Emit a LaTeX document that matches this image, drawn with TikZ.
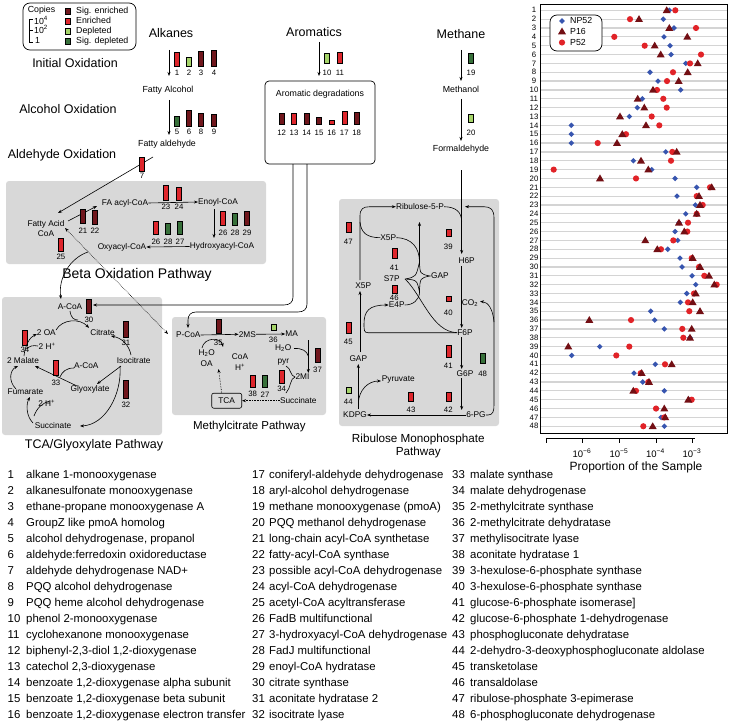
\documentclass[tikz,border=0pt]{standalone}
\usepackage{fontspec}
\setmainfont{Liberation Sans}
\usetikzlibrary{arrows.meta}
\definecolor{sigenr}{RGB}{112,22,28}
\definecolor{enr}{RGB}{222,38,44}
\definecolor{depl}{RGB}{165,212,105}
\definecolor{sigdepl}{RGB}{55,112,58}
\definecolor{boxgray}{RGB}{216,216,216}
\definecolor{ptblue}{RGB}{55,85,175}
\definecolor{ptdark}{RGB}{115,15,20}
\definecolor{ptred}{RGB}{225,35,40}
\definecolor{gridgray}{RGB}{212,212,212}
\newcommand\pbl[7]{\draw[line width=0.4pt,fill=#4] (#1-2.5,#2) rectangle (#1+2.5,#3);
  \node[num] (#7) at (#1,#5) {#6};}
\begin{document}
\begin{tikzpicture}[x=1pt,y=-1pt,
  lbl/.style={font=\fontsize{8.3}{10}\selectfont,inner sep=0pt},
  num/.style={font=\fontsize{7.8}{9}\selectfont,inner sep=0pt},
  mid/.style={font=\fontsize{8.8}{10}\selectfont,inner sep=0pt},
  leg/.style={font=\fontsize{8.8}{10}\selectfont,inner sep=0pt},
  ttl/.style={font=\fontsize{12.5}{14}\selectfont,inner sep=0pt},
  arr/.style={-{Stealth[length=4pt,width=3pt]},line width=0.6pt},
  ln/.style={line width=0.6pt},
  dotarr/.style={densely dotted,line width=0.6pt,{Stealth[length=4pt,width=3pt]}-{Stealth[length=4pt,width=3pt]}},
  dotone/.style={densely dotted,line width=0.6pt,-{Stealth[length=4pt,width=3pt]}},
  pbox/.style={fill=boxgray,rounded corners=3pt},
  lst/.style={font=\fontsize{11.4}{13}\selectfont,inner sep=0pt,anchor=mid west},
  rowlbl/.style={font=\fontsize{7.8}{9}\selectfont,inner sep=0pt},
]
\useasboundingbox (0,0) rectangle (729,725);

% ---------------- legend ----------------
\draw[line width=0.7pt,rounded corners=7pt] (23,3) rectangle (136,50);
\node[leg] (cop) at (41.5,10.5) {Copies};
\draw[line width=0.6pt] (33,19.5) -- (29,19.5) -- (29,42) -- (33,42) (29,30.5) -- (33,30.5);
\node[leg,anchor=mid west] (c4) at (34,21.5) {10\textsuperscript{4}};
\node[leg,anchor=mid west] (c2) at (34,31) {10\textsuperscript{2}};
\node[leg,anchor=mid west] (c1) at (35,40.5) {1};
\draw[line width=0.4pt,fill=sigenr] (65,8) rectangle (70,14);
\draw[line width=0.4pt,fill=enr] (65,18) rectangle (70,24);
\draw[line width=0.4pt,fill=depl] (65,28) rectangle (70,34);
\draw[line width=0.4pt,fill=sigdepl] (65,38) rectangle (70,44);
\node[leg,anchor=mid west] (ls1) at (76,11) {Sig. enriched};
\node[leg,anchor=mid west] (ls2) at (76,21) {Enriched};
\node[leg,anchor=mid west] (ls3) at (76,31) {Depleted};
\node[leg,anchor=mid west] (ls4) at (76,41) {Sig. depleted};

% ---------------- alkanes ----------------
\node[ttl] (alk) at (171,33) {Alkanes};
\node[ttl] (iox) at (75,63) {Initial Oxidation};
\node[ttl] (aox) at (68,109) {Alcohol Oxidation};
\node[ttl] (dox) at (62,155) {Aldehyde Oxidation};
\node[mid] (falc) at (168,90) {Fatty Alcohol};
\node[mid] (fald) at (167,144) {Fatty aldehyde};
\draw[arr] (169,50) -- (169,76);
\draw[arr] (169,100) -- (169,135);
\pbl{177}{52}{66}{enr}{73}{1}{b1}
\pbl{189}{57}{66}{depl}{73}{2}{b2}
\pbl{201}{51}{66}{sigenr}{73}{3}{b3}
\pbl{214}{50}{66}{sigenr}{73}{4}{b4}
\pbl{177}{116}{126}{sigdepl}{132}{5}{b5}
\pbl{189}{110}{126}{sigenr}{132}{6}{b6}
\pbl{201}{113}{126}{sigenr}{132}{8}{b8}
\pbl{214}{114}{126}{sigenr}{132}{9}{b9}

% ---------------- aromatics ----------------
\node[ttl] (aro) at (314,32) {Aromatics};
\draw[arr] (319,42) -- (319,76);
\pbl{327}{53}{63}{depl}{73}{10}{b10}
\pbl{340}{52}{63}{enr}{73}{11}{b11}
\draw[line width=0.7pt,rounded corners=4pt] (265,81) rectangle (375,164);
\node[mid] (arod) at (320,94) {Aromatic degradations};
\pbl{281.7}{113}{124}{sigenr}{133}{12}{b12}
\pbl{294}{113}{124}{enr}{133}{13}{b13}
\pbl{306.7}{113}{124}{sigenr}{133}{14}{b14}
\pbl{319}{117}{124}{sigenr}{133}{15}{b15}
\pbl{331.7}{120}{124}{enr}{133}{16}{b16}
\pbl{344.3}{111}{124}{enr}{133}{17}{b17}
\pbl{356.7}{112}{124}{sigenr}{133}{18}{b18}

% ---------------- methane ----------------
\node[ttl] (meth) at (461,34) {Methane};
\draw[arr] (461,50) -- (461,81);
\pbl{471}{53}{63}{sigdepl}{73}{19}{b19}
\node[mid] (mol) at (461,89) {Methanol};
\draw[arr] (461,99) -- (461,141);
\pbl{471}{114}{122}{depl}{133}{20}{b20}
\node[mid] (form) at (461,149) {Formaldehyde};

% ---------------- gray boxes ----------------
\fill[pbox] (6,181) rectangle (266,264);
\fill[pbox] (2,297) rectangle (162,435);
\fill[pbox] (172,317) rectangle (326,415);
\fill[pbox] (339,199) rectangle (499,426);

% ---------------- beta oxidation ----------------
\node[lbl,align=center] (fa) at (46,229) {Fatty Acid\\CoA};
\draw[arr] (153,157) -- (58,213);
\pbl{142}{157}{171}{enr}{176}{7}{b7}
\draw[arr] (68,221) -- (97,206);
\pbl{83}{209}{223}{sigenr}{231}{21}{b21}
\pbl{95}{210}{224}{sigenr}{231}{22}{b22}
\node[lbl] (faacyl) at (125,203) {FA acyl-CoA};
\pbl{166}{185}{200}{enr}{207}{23}{b23}
\pbl{179}{187}{200}{enr}{207}{24}{b24}
\node[lbl] (enoyl) at (218,202) {Enoyl-CoA};
\draw[arr] (faacyl.east) -- (enoyl.west);
\draw[arr] (214,209) -- (214,238);
\pbl{223}{211}{225}{enr}{233}{26}{b26a}
\pbl{235}{213}{225}{sigdepl}{233}{28}{b28a}
\pbl{247}{211}{225}{sigenr}{233}{29}{b29}
\node[lbl] (hydr) at (222,246.5) {Hydroxyacyl-CoA};
\node[lbl] (oxy) at (122,247) {Oxyacyl-CoA};
\draw[arr] (hydr.west) -- (oxy.east);
\pbl{156}{221}{234}{enr}{241.5}{26}{b26b}
\pbl{168}{223}{234}{sigdepl}{241.5}{28}{b28b}
\pbl{180}{221}{234}{sigdepl}{241.5}{27}{b27a}
\pbl{61}{238}{251}{enr}{257}{25}{b25}
\node[font=\fontsize{14}{16}\selectfont,inner sep=0pt] (betat) at (137,275) {Beta Oxidation Pathway};
\draw[arr] (88,252) .. controls (70,258) and (58,278) .. (61,299);
\draw[dotarr] (65,228) -- (168,334);

% ---------------- aromatic outputs ----------------
\draw[arr] (293,164) -- (293,297) .. controls (293,302) and (290,305) .. (284,305) -- (93,305);
\draw[arr] (307,164) -- (307,304) .. controls (307,309) and (304,312) .. (298,312) -- (196,312) .. controls (191,312) and (188,315) .. (188,320) -- (188,328);

% ---------------- TCA ----------------
\node[lbl] (acoa1) at (70,306.5) {A-CoA};
\pbl{89}{299}{313}{sigenr}{320}{30}{b30}
\node[lbl] (oa) at (46.3,332.3) {2 OA};
\node[lbl] (cit) at (102.5,332.3) {Citrate};
\pbl{126}{321}{337}{sigenr}{343}{31}{b31}
\pbl{25}{330}{345}{enr}{350}{34}{b34a}
\node[lbl] (h1) at (47,346) {2 H\textsuperscript{+}};
\node[lbl] (mal) at (23,360.7) {2 Malate};
\pbl{56}{360}{375}{enr}{383}{33}{b33}
\node[lbl] (acoa2) at (86.3,366) {A-CoA};
\node[lbl] (iso) at (133.7,360.7) {Isocitrate};
\node[lbl] (fum) at (25.5,391.7) {Fumarate};
\node[lbl] (gly) at (90,389.3) {Glyoxylate};
\pbl{126}{380}{398}{sigenr}{405}{32}{b32}
\node[lbl] (h2) at (46.7,403.3) {2 H\textsuperscript{+}};
\node[lbl] (suc) at (53,426) {Succinate};
\draw[arr] (56,330) .. controls (62,319) and (80,318) .. (89,328);
\draw[ln] (70,311) .. controls (71,318) and (74,320) .. (78,320);
\draw[arr] (131,355) .. controls (129,345) and (122,338) .. (111,336);
\draw[arr] (120,366) .. controls (122,395) and (105,425) .. (80,426);
\draw[arr] (121,366) -- (97,384);
\draw[arr] (77,386) -- (35,366);
\draw[ln] (74,368) .. controls (66,368) and (62,372) .. (60,377);
\draw[arr] (33,423) .. controls (26,416) and (26,404) .. (30,397);
\draw[ln] (50,401) .. controls (42,403) and (37,408) .. (34,416);
\draw[arr] (16,389) .. controls (8,381) and (10,370) .. (18,366);
\draw[arr] (24,356) .. controls (25,345) and (30,337) .. (37,334);
\draw[ln] (38,346) .. controls (33,345) and (29,346) .. (27,349);
\node[ttl] (tcat) at (94,445) {TCA/Glyoxylate Pathway};

% ---------------- methylcitrate ----------------
\node[lbl] (pcoa) at (188.3,335) {P-CoA};
\pbl{218.3}{319.3}{333.3}{sigenr}{343.3}{35}{b35}
\node[lbl] (mcs) at (247.3,334.3) {2MS};
\draw[arr] (pcoa.east) -- (mcs.west);
\pbl{273.3}{324.3}{330.5}{depl}{340}{36}{b36}
\node[lbl] (ma) at (291.7,334) {MA};
\draw[arr] (mcs.east) -- (ma.west);
\node[lbl] (h2oa) at (206.7,353.3) {H\textsubscript{2}O};
\node[lbl] (oab) at (206.7,363.3) {OA};
\node[lbl] (coa) at (240,356.7) {CoA};
\node[lbl] (hp) at (240,367.3) {H\textsuperscript{+}};
\draw[arr] (202,348) .. controls (204,337) and (221,337) .. (223,347);
\node[lbl] (h2ob) at (283.3,348.3) {H\textsubscript{2}O};
\draw[arr] (308.3,340) -- (308.3,373);
\draw[ln] (294,348.5) .. controls (302,348) and (307,351) .. (308.3,356);
\pbl{317.5}{348.3}{361.7}{sigenr}{370}{37}{b37}
\node[lbl] (pyr) at (283.3,361.7) {pyr};
\node[lbl] (mi) at (302.5,377) {2MI};
\pbl{281.7}{370}{383.3}{enr}{389.3}{34}{b34b}
\draw[ln] (286,366) .. controls (291,368) and (290,376) .. (295,377) .. controls (290,378) and (291,388) .. (286,393);
\pbl{252.7}{375}{387.3}{enr}{394.3}{38}{b38}
\pbl{265}{375}{387.3}{sigdepl}{394.3}{27}{b27b}
\node[lbl] (succ) at (298.3,400.7) {Succinate};
\node[lbl,draw,fill=boxgray,rounded corners=2pt,line width=0.6pt,minimum width=30pt,minimum height=15pt] (tca) at (226.7,400.7) {TCA};
\draw[dotone] (succ.west) -- (tca.east);
\draw[dotone] (221.7,393) -- (218.5,369);
\node[font=\fontsize{11.5}{13}\selectfont,inner sep=0pt] (mct) at (249.3,426.7) {Methylcitrate Pathway};

% ---------------- ribulose monophosphate ----------------
\node[lbl] (r5p) at (420,206.7) {Ribulose-5-P};
\node[lbl] (x5pu) at (388.3,237.7) {X5P};
\pbl{348.3}{221.7}{231.7}{enr}{242}{47}{b47}
\pbl{448.3}{229}{236}{enr}{247}{39}{b39}
\node[lbl] (h6p) at (466.7,261) {H6P};
\pbl{394.3}{248}{258}{enr}{268}{41}{b41a}
\node[lbl] (s7p) at (391.7,278.3) {S7P};
\node[lbl] (gap1) at (440,276) {GAP};
\node[lbl] (x5pl) at (363.3,285.7) {X5P};
\pbl{394.3}{285}{293}{enr}{297.5}{46}{b46}
\node[lbl] (e4p) at (396.7,305) {E4P};
\pbl{448.3}{296}{300.7}{enr}{313}{40}{b40}
\node[lbl] (co2) at (470,303.3) {CO\textsubscript{2}};
\pbl{348.3}{321.7}{333.3}{enr}{341.7}{45}{b45}
\node[lbl] (f6p) at (465,332.7) {F6P};
\pbl{448.3}{345}{356.7}{enr}{366}{41}{b41b}
\node[lbl] (gap2) at (358.3,358.3) {GAP};
\pbl{482.7}{353}{362.7}{sigdepl}{374}{48}{b48}
\node[lbl] (g6p) at (465,374) {G6P};
\node[lbl] (pyruv) at (398.3,380) {Pyruvate};
\pbl{348.3}{386.7}{393.3}{depl}{402}{44}{b44}
\pbl{411}{391.7}{400.7}{enr}{410}{43}{b43}
\pbl{448.3}{391.7}{400.7}{enr}{410}{42}{b42}
\node[lbl] (kdpg) at (355,415) {KDPG};
\node[lbl] (pg6) at (476,415) {6-PG};
\draw[arr] (461.7,170) -- (461.7,254);
\draw[ln] (r5p.east) .. controls (456,207) and (461.7,212) .. (461.7,222);
\draw[arr] (pg6.east) -- (488,415) .. controls (493,415) and (494,411) .. (494,405) -- (494,218) .. controls (494,210) and (491,206.7) .. (484,206.7) -- (465,206.7);
\draw[arr] (494,322) .. controls (493,309) and (488,302) .. (480,301.5);
\draw[arr] (360,280) -- (360,216) .. controls (360,209) and (363,206.7) .. (370,206.7) -- (r5p.west);
\draw[ln] (360,222) .. controls (361,232) and (366,237.7) .. (x5pu.west);
\draw[arr] (360,352) -- (360,291);
\draw[arr] (f6p.west) -- (368,332.7) .. controls (364,332.7) and (364,330) .. (364,324) .. controls (364,311) and (369,305) .. (e4p.west);
\draw[ln] (405,279) .. controls (422,295) and (432,332) .. (f6p.west);
\draw[ln] (405,279) .. controls (416,277) .. (419.5,262) .. controls (420,274) .. (430,276) .. controls (420,278) .. (419.5,292) .. controls (417,280) .. (405,279);
\draw[ln] (x5pu.east) .. controls (412,238) and (419.5,248) .. (419.5,262);
\draw[ln] (e4p.east) .. controls (413,305) and (419.5,300) .. (419.5,292);
\draw[arr] (419.5,262) -- (419.5,222);
\draw[arr] (461.7,266) -- (461.7,328);
\draw[arr] (461.7,337) -- (461.7,369);
\draw[arr] (461.7,378) -- (461.7,410);
\draw[arr] (pg6.west) -- (kdpg.east);
\draw[arr] (358.3,409) -- (358.3,364);
\draw[arr] (358.3,403) .. controls (359,390) and (368,381) .. (381,381);
\node[font=\fontsize{11.7}{13}\selectfont,inner sep=0pt,align=center] (rmt) at (418.3,445.5) {Ribulose Monophosphate\\Pathway};

% ---------------- chart ----------------
\foreach \i in {1,...,48}{
  \pgfmathsetmacro\yy{10.3+(\i-1)*8.85}
  \draw[gridgray,line width=1.2pt] (540,\yy) -- (727,\yy);
  \node[rowlbl] (r\i) at (534,\yy) {\i};
}
\draw[line width=0.7pt] (540,4) rectangle (727,433);
\foreach \r/\v in {1/669.3,2/663.3,3/674,4/664,5/670,6/671,7/685.7,8/650,9/658,10/680.7,11/642.3,12/637.3,13/629.3,14/571.3,15/571.3,16/571.3,17/665.7,18/633.3,19/651.7,20/675,21/696.7,22/677,23/695.3,24/685.7,25/679,26/675,27/677.7,28/667.7,29/680,30/682,31/692,32/695.7,33/686.7,34/680.3,35/650.7,36/654.7,37/664.3,38/690,39/599.7,40/571.7,41/655.3,42/634,43/642.7,44/664.3,45/690,46/656.7,47/661,48/664.3}{
  \pgfmathsetmacro\yy{10.3+(\r-1)*8.85}
  \fill[ptblue] (\v,\yy-2.8) -- (\v+2.8,\yy) -- (\v,\yy+2.8) -- (\v-2.8,\yy) -- cycle;
}
\foreach \r/\v in {1/675.3,2/630,3/696,4/614.3,5/644.7,6/701,7/690,8/673,9/667,10/657,11/663.3,12/666.7,13/651.7,14/659.3,15/626,16/597.7,17/672.3,18/671,19/553.7,20/636,21/710,22/696.7,23/702.7,24/696.7,25/688,26/687.3,27/673.3,28/661,29/691.7,30/699,31/704.3,32/716.7,33/694,34/688,35/689.3,36/631,37/682.3,38/683.3,39/629.3,40/616.3,41/665,42/640.7,43/648.3,44/636,45/691.7,46/656,47/664.3,48/643.3}{
  \pgfmathsetmacro\yy{10.3+(\r-1)*8.85}
  \fill[ptred] (\v,\yy) circle (3.1);
}
\foreach \r/\v in {1/666.7,2/639,3/669.3,4/687.3,5/654.7,6/660.7,7/697.7,8/687.7,9/678.7,10/653,11/637.7,12/644.3,13/620,14/646,15/622.3,16/617,17/676.7,18/641,19/648.3,20/600,21/711.7,22/699,23/700,24/696.7,25/679,26/684.3,27/645.3,28/657.3,29/692.7,30/700,31/709,32/714.3,33/695.7,34/692.7,35/700,36/589.3,37/691.7,38/690,39/568.3,41/671.7,42/641.7,43/649,44/633.3,45/688.3,46/664.3,47/665.3,48/652.7}{
  \pgfmathsetmacro\yy{10.3+(\r-1)*8.85}
  \fill[ptdark] (\v,\yy-4) -- (\v+4,\yy+2.8) -- (\v-4,\yy+2.8) -- cycle;
}
% chart legend
\draw[line width=0.7pt,rounded corners=7pt,fill=white] (550,15) rectangle (602,51);
\fill[ptblue] (562,18.2) -- (564.8,21) -- (562,23.8) -- (559.2,21) -- cycle;
\fill[ptdark] (562,27.5) -- (566,34.3) -- (558,34.3) -- cycle;
\fill[ptred] (562,42.5) circle (3.1);
\node[leg,anchor=mid west] (lg1) at (570,21) {NP52};
\node[leg,anchor=mid west] (lg2) at (570,31.5) {P16};
\node[leg,anchor=mid west] (lg3) at (570,42.5) {P52};
% axis
\draw[line width=0.7pt] (546,438) -- (695,438);
\foreach \t in {546,582.7,619.4,656.1,692.8} \draw[line width=0.7pt] (\t,438) -- (\t,443);
\node[font=\fontsize{9.5}{11}\selectfont,inner sep=0pt] (t6) at (582,453) {10\textsuperscript{−6}};
\node[font=\fontsize{9.5}{11}\selectfont,inner sep=0pt] (t5) at (619,453) {10\textsuperscript{−5}};
\node[font=\fontsize{9.5}{11}\selectfont,inner sep=0pt] (t4) at (655.5,453) {10\textsuperscript{−4}};
\node[font=\fontsize{9.5}{11}\selectfont,inner sep=0pt] (t3) at (692,453) {10\textsuperscript{−3}};
\node[font=\fontsize{12}{14}\selectfont,inner sep=0pt] (xlab) at (636,467) {Proportion of the Sample};

% ---------------- list ----------------
\node[lst] (e1) at (7.5,476.0) {\makebox[18.5pt][l]{1}alkane 1-monooxygenase};
\node[lst] (e2) at (7.5,492.0) {\makebox[18.5pt][l]{2}alkanesulfonate monooxygenase};
\node[lst] (e3) at (7.5,508.0) {\makebox[18.5pt][l]{3}ethane-propane monooxygenase A};
\node[lst] (e4) at (7.5,524.0) {\makebox[18.5pt][l]{4}GroupZ like pmoA homolog};
\node[lst] (e5) at (7.5,540.0) {\makebox[18.5pt][l]{5}alcohol dehydrogenase, propanol};
\node[lst] (e6) at (7.5,556.0) {\makebox[18.5pt][l]{6}aldehyde:ferredoxin oxidoreductase};
\node[lst] (e7) at (7.5,572.0) {\makebox[18.5pt][l]{7}aldehyde dehydrogenase NAD+};
\node[lst] (e8) at (7.5,588.0) {\makebox[18.5pt][l]{8}PQQ alcohol dehydrogenase};
\node[lst] (e9) at (7.5,604.0) {\makebox[18.5pt][l]{9}PQQ heme alcohol dehydrogenase};
\node[lst] (e10) at (7.5,620.0) {\makebox[18.5pt][l]{10}phenol 2-monooxygenase};
\node[lst] (e11) at (7.5,636.0) {\makebox[18.5pt][l]{11}cyclohexanone monooxygenase};
\node[lst] (e12) at (7.5,652.0) {\makebox[18.5pt][l]{12}biphenyl-2,3-diol 1,2-dioxygenase};
\node[lst] (e13) at (7.5,668.0) {\makebox[18.5pt][l]{13}catechol 2,3-dioxygenase};
\node[lst] (e14) at (7.5,684.0) {\makebox[18.5pt][l]{14}benzoate 1,2-dioxygenase alpha subunit};
\node[lst] (e15) at (7.5,700.0) {\makebox[18.5pt][l]{15}benzoate 1,2-dioxygenase beta subunit};
\node[lst] (e16) at (7.5,716.0) {\makebox[18.5pt][l]{16}benzoate 1,2-dioxygenase electron transfer};
\node[lst] (e17) at (252,476.0) {\makebox[17pt][l]{17}coniferyl-aldehyde dehydrogenase};
\node[lst] (e18) at (252,492.0) {\makebox[17pt][l]{18}aryl-alcohol dehydrogenase};
\node[lst] (e19) at (252,508.0) {\makebox[17pt][l]{19}methane monooxygenase (pmoA)};
\node[lst] (e20) at (252,524.0) {\makebox[17pt][l]{20}PQQ methanol dehydrogenase};
\node[lst] (e21) at (252,540.0) {\makebox[17pt][l]{21}long-chain acyl-CoA synthetase};
\node[lst] (e22) at (252,556.0) {\makebox[17pt][l]{22}fatty-acyl-CoA synthase};
\node[lst] (e23) at (252,572.0) {\makebox[17pt][l]{23}possible acyl-CoA dehydrogenase};
\node[lst] (e24) at (252,588.0) {\makebox[17pt][l]{24}acyl-CoA dehydrogenase};
\node[lst] (e25) at (252,604.0) {\makebox[17pt][l]{25}acetyl-CoA acyltransferase};
\node[lst] (e26) at (252,620.0) {\makebox[17pt][l]{26}FadB multifunctional};
\node[lst] (e27) at (252,636.0) {\makebox[17pt][l]{27}3-hydroxyacyl-CoA dehydrogenase};
\node[lst] (e28) at (252,652.0) {\makebox[17pt][l]{28}FadJ multifunctional};
\node[lst] (e29) at (252,668.0) {\makebox[17pt][l]{29}enoyl-CoA hydratase};
\node[lst] (e30) at (252,684.0) {\makebox[17pt][l]{30}citrate synthase};
\node[lst] (e31) at (252,700.0) {\makebox[17pt][l]{31}aconitate hydratase 2};
\node[lst] (e32) at (252,716.0) {\makebox[17pt][l]{32}isocitrate lyase};
\node[lst] (e33) at (452,476.0) {\makebox[18pt][l]{33}malate synthase};
\node[lst] (e34) at (452,492.0) {\makebox[18pt][l]{34}malate dehydrogenase};
\node[lst] (e35) at (452,508.0) {\makebox[18pt][l]{35}2-methylcitrate synthase};
\node[lst] (e36) at (452,524.0) {\makebox[18pt][l]{36}2-methylcitrate dehydratase};
\node[lst] (e37) at (452,540.0) {\makebox[18pt][l]{37}methylisocitrate lyase};
\node[lst] (e38) at (452,556.0) {\makebox[18pt][l]{38}aconitate hydratase 1};
\node[lst] (e39) at (452,572.0) {\makebox[18pt][l]{39}3-hexulose-6-phosphate synthase};
\node[lst] (e40) at (452,588.0) {\makebox[18pt][l]{40}3-hexulose-6-phosphate synthase};
\node[lst] (e41) at (452,604.0) {\makebox[18pt][l]{41}glucose-6-phosphate isomerase]};
\node[lst] (e42) at (452,620.0) {\makebox[18pt][l]{42}glucose-6-phosphate 1-dehydrogenase};
\node[lst] (e43) at (452,636.0) {\makebox[18pt][l]{43}phosphogluconate dehydratase};
\node[lst] (e44) at (452,652.0) {\makebox[18pt][l]{44}2-dehydro-3-deoxyphosphogluconate aldolase};
\node[lst] (e45) at (452,668.0) {\makebox[18pt][l]{45}transketolase};
\node[lst] (e46) at (452,684.0) {\makebox[18pt][l]{46}transaldolase};
\node[lst] (e47) at (452,700.0) {\makebox[18pt][l]{47}ribulose-phosphate 3-epimerase};
\node[lst] (e48) at (452,716.0) {\makebox[18pt][l]{48}6-phosphogluconate dehydrogenase};
\end{tikzpicture}
\end{document}
